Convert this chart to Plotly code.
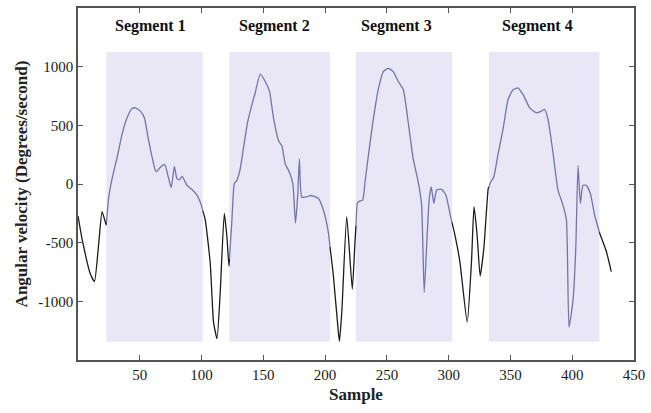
import numpy as np
import plotly.graph_objects as go

# Angular velocity trace (sample index, degrees/second)
sample = [0, 3.4, 10.1, 13.3, 16.8, 19.5, 22.8, 24.9, 27.6, 31.7, 35.7, 39.7, 43.8, 46.5,
          50.5, 53.7, 57.2, 62.6, 63.5, 66.5, 70.2, 73.4, 75.5, 78, 80.1, 82, 84.2, 88.2,
          92.3, 96.3, 99.8, 103, 107, 109.7, 112.5, 115.1, 118.4, 120.5, 122.2, 124.6,
          126.5, 128.6, 131.3, 134, 137.2, 140.8, 143.4, 147.5, 151.5, 155, 158.2, 162.3,
          165, 167.7, 171.1, 173.9, 176, 177.8, 179.2, 181.1, 185, 188, 190.5, 194.6,
          198.6, 202.7, 206.7, 210.7, 211.6, 213.5, 217.5, 222, 224.2, 226.1, 227.7,
          230.4, 232.3, 235, 239, 243, 247.1, 251.1, 255.2, 259.2, 263.3, 267.3, 271.3,
          275.4, 278.1, 280.2, 282.6, 284.3, 285.9, 288, 290.2, 294.3, 297.8, 301, 305,
          309, 315, 318.5, 320.5, 323, 325.5, 328.5, 332, 333.9, 336.5, 340, 344, 348.1,
          352.1, 356.2, 360.2, 365.6, 371, 375, 377.7, 380.4, 384.4, 388.5, 392.5, 395.3,
          397.4, 400.6, 402.8, 404.7, 406.6, 408.7, 411.4, 414.7, 418.1, 422.2, 427.6,
          431.6]
velocity = [-272, -475, -770, -831, -503, -236, -348, -110, 45, 228, 425, 565, 644, 649,
            621, 565, 368, 115, 105, 140, 166, 45, -30, 149, 45, 35, 65, -11,
            -47, -95, -180, -306, -671, -1177, -1318, -924, -250, -447, -700, -306,
            3, 31, 130, 312, 523, 678, 776, 936, 874, 790, 565, 368,
            326, 172, 101, 3, -334, -100, 214, -110, -110, -98, -104, -123,
            -222, -418, -784, -1261, -1340, -1093, -278, -896, -489, -165, -146,
            -137, 17, 242, 551, 804, 958, 986, 958, 874, 804, 523, 214,
            17, -180, -924, -432, -123, -25, -165, -53, -45, -95, -250, -432,
            -657, -1177, -657, -194, -432, -784, -545, -39, 12, 59, 256, 467, 720,
            804, 818, 762, 649, 607, 621, 635, 551, 270, -53, -180, -306,
            -1219, -994, -573, 158, -165, -11, -11, -81, -264, -418, -573,
            -747]

# Axis ticks
x_ticks = [50, 100, 150, 200, 250, 300, 350, 400, 450]
y_ticks = [-1000, -500, 0, 500, 1000]
y_tick_text = ["-1000", "-500", "0", "500", "1000"]

# Highlighted movement segments
seg_names = ["Segment 1", "Segment 2", "Segment 3", "Segment 4"]
seg_start = [23, 122.6, 225, 332.6]
seg_end = [101, 204, 302.7, 422]
seg_low = -1345
seg_high = 1125
label_x = [59, 159, 258, 372]
label_y = 1346

FONT = "Liberation Serif, Times New Roman, serif"
OUT_COLOR = "#1c1c1c"
IN_COLOR = "#7474aa"
FILL = "#e9e7f6"

x = np.array(sample, dtype=float)
y = np.array(velocity, dtype=float)


def piece(lo, hi):
    """Portion of the trace between lo and hi, with interpolated end points."""
    mask = (x > lo) & (x < hi)
    xs = np.concatenate(([lo], x[mask], [hi]))
    ys = np.concatenate(([np.interp(lo, x, y)], y[mask], [np.interp(hi, x, y)]))
    return xs, ys


fig = go.Figure()

line_style = dict(width=1.3, shape="spline", smoothing=0.5)

# Black trace between segments
edges = [x[0]] + [v for pair in zip(seg_start, seg_end) for v in pair] + [x[-1]]
for i in range(0, len(edges), 2):
    xs, ys = piece(edges[i], edges[i + 1])
    fig.add_trace(go.Scatter(x=xs, y=ys, mode="lines",
                             line=dict(color=OUT_COLOR, **line_style),
                             hoverinfo="skip", showlegend=False))

# Tinted trace inside each segment
for lo, hi in zip(seg_start, seg_end):
    xs, ys = piece(lo, hi)
    fig.add_trace(go.Scatter(x=xs, y=ys, mode="lines",
                             line=dict(color=IN_COLOR, **line_style),
                             hoverinfo="skip", showlegend=False))

for name, lo, hi, lx in zip(seg_names, seg_start, seg_end, label_x):
    fig.add_shape(type="rect", x0=lo, x1=hi, y0=seg_low, y1=seg_high,
                  fillcolor=FILL, line=dict(width=0), layer="below")
    fig.add_annotation(x=lx, y=label_y, text="<b>%s</b>" % name, showarrow=False,
                       font=dict(family=FONT, size=16, color="#111"))

axis_common = dict(
    showline=True, linecolor="#555", linewidth=1.5, mirror="ticks",
    ticks="inside", ticklen=5, tickwidth=1.2, tickcolor="#555",
    showgrid=False, zeroline=False,
    tickfont=dict(family=FONT, size=15, color="#1a1a1a"),
)

fig.update_xaxes(range=[0, 450], tickvals=x_ticks,
                 title=dict(text="<b>Sample</b>", font=dict(family=FONT, size=17, color="#222"),
                            standoff=6),
                 **axis_common)
fig.update_yaxes(range=[-1500, 1500], tickvals=y_ticks, ticktext=y_tick_text,
                 title=dict(text="<b>Angular velocity (Degrees/second)</b>",
                            font=dict(family=FONT, size=17, color="#222"), standoff=6),
                 **axis_common)

fig.update_layout(
    width=651, height=413,
    margin=dict(l=78, r=16, t=6, b=53),
    paper_bgcolor="white", plot_bgcolor="white",
    showlegend=False,
)

fig.write_html("out.html")
